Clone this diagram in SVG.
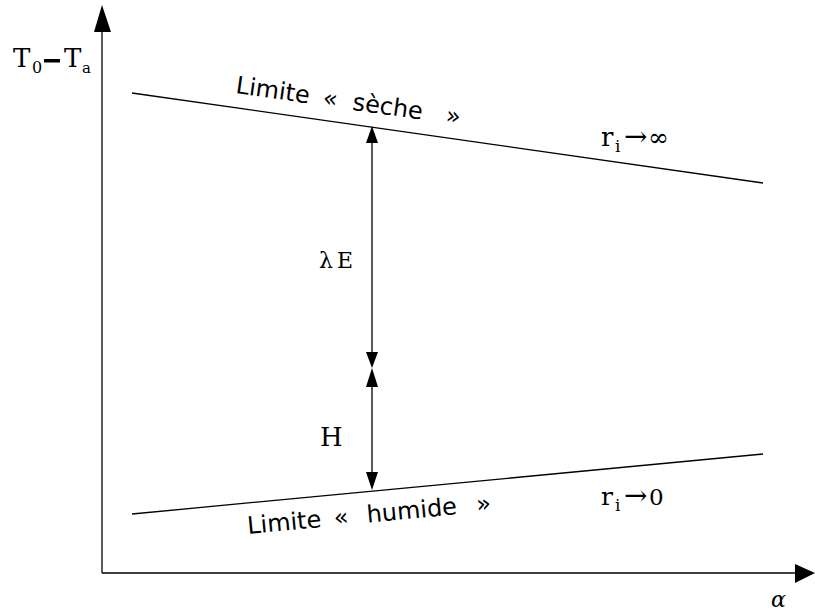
<svg xmlns="http://www.w3.org/2000/svg" width="815" height="614" viewBox="0 0 815 614">
<style>
.ln{stroke:#000;stroke-width:1.3;fill:none}
.ser{font-family:"DejaVu Serif","Liberation Serif",serif;fill:#000}
.sans{font-family:"DejaVu Sans","Liberation Sans",sans-serif;font-size:24px;fill:#000}
</style>
<rect width="815" height="614" fill="#fff"/>
<g id="axes">
<line class="ln" x1="102" y1="573" x2="102" y2="30"/>
<path d="M102,5 L94,32 L111,32 Z" fill="#000"/>
<line class="ln" x1="102" y1="573" x2="796" y2="573"/>
<path d="M815,573 L795,564 L795,583 Z" fill="#000"/>
</g>
<g id="limits">
<line class="ln" x1="132" y1="93" x2="763" y2="183"/>
<line class="ln" x1="132" y1="514" x2="763" y2="454"/>
</g>
<g id="connectors">
<line class="ln" x1="372" y1="140" x2="372" y2="354"/>
<path d="M372,126 L366,143 L378,143 Z" fill="#000"/>
<path d="M372,368 L366,352 L378,352 Z" fill="#000"/>
<line class="ln" x1="372" y1="384" x2="372" y2="475"/>
<path d="M372,368 L366,387 L378,387 Z" fill="#000"/>
<path d="M372,490 L366,472 L378,472 Z" fill="#000"/>
</g>
<g id="labels">
<text class="ser" font-size="26" x="13" y="67">T</text>
<text class="ser" font-size="16" x="32" y="73">0</text>
<rect x="44" y="59" width="16" height="3.5" fill="#000"/>
<text class="ser" font-size="26" x="64" y="67">T</text>
<text class="ser" font-size="15" x="82" y="73">a</text>
<g transform="translate(235,93) rotate(8.1)">
<text class="sans" x="0" y="0">Limite</text>
<text class="sans" x="88" y="0">«</text>
<text class="sans" x="118" y="0">sèche</text>
<text class="sans" x="212" y="0">»</text>
</g>
<text class="ser" font-size="26" x="601" y="146">r</text>
<text class="ser" font-size="17" x="615" y="152">i</text>
<text class="ser" font-size="28" x="624" y="146">→</text>
<text class="ser" font-size="25" x="648" y="146">∞</text>
<text class="ser" font-size="22" x="319" y="268">λ</text>
<text class="ser" font-size="22" x="337" y="268">E</text>
<text class="ser" font-size="26" x="320" y="446">H</text>
<g transform="translate(248,534) rotate(-5.4)">
<text class="sans" x="0" y="0">Limite</text>
<text class="sans" x="87" y="0">«</text>
<text class="sans" x="120" y="0">humide</text>
<text class="sans" x="230" y="0">»</text>
</g>
<text class="ser" font-size="25" x="601" y="505">r</text>
<text class="ser" font-size="17" x="615" y="511">i</text>
<text class="ser" font-size="28" x="624" y="505">→</text>
<text class="ser" font-size="23" x="649" y="505">0</text>
<text class="ser" font-size="22" font-style="italic" x="771" y="607">α</text>
</g>
</svg>
